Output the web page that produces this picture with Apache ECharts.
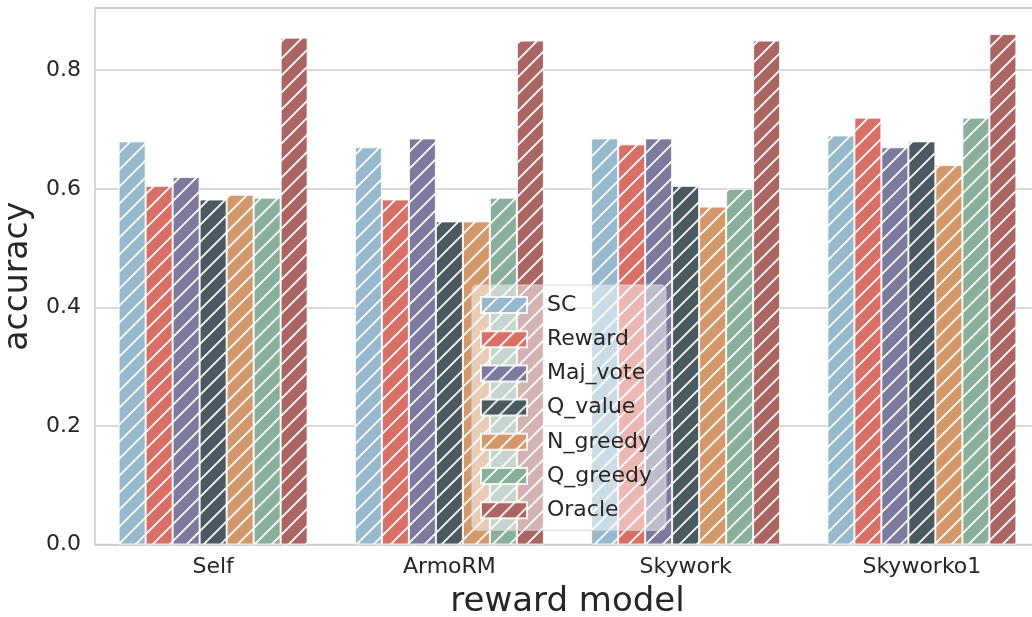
<!DOCTYPE html>
<html>
<head>
<meta charset="utf-8">
<script src="https://cdn.jsdelivr.net/npm/echarts@6/dist/echarts.min.js"></script>
<style>html,body{margin:0;padding:0;background:#fff;}#chart{width:1032px;height:617px;}</style>
</head>
<body>
<div id="chart"></div>
<script>
const categories = ['Self', 'ArmoRM', 'Skywork', 'Skyworko1'];
const seriesNames = ['SC', 'Reward', 'Maj_vote', 'Q_value', 'N_greedy', 'Q_greedy', 'Oracle'];
const SC       = [0.680, 0.670, 0.685, 0.690];
const Reward   = [0.605, 0.582, 0.675, 0.720];
const Maj_vote = [0.620, 0.685, 0.685, 0.670];
const Q_value  = [0.582, 0.545, 0.605, 0.680];
const N_greedy = [0.590, 0.545, 0.570, 0.640];
const Q_greedy = [0.585, 0.585, 0.600, 0.720];
const Oracle   = [0.855, 0.850, 0.850, 0.861];
const yTicks = [0, 0.2, 0.4, 0.6, 0.8];

const seriesData = [SC, Reward, Maj_vote, Q_value, N_greedy, Q_greedy, Oracle];
const colors = ['#97b9ce', '#d87068', '#7d7b9d', '#4b5a61', '#d3996a', '#8aaf9b', '#ab6664'];

function hatch(color) {
  const P = 17;
  const c = document.createElement('canvas');
  c.width = P; c.height = P;
  const ctx = c.getContext('2d');
  ctx.fillStyle = color;
  ctx.fillRect(0, 0, P, P);
  ctx.strokeStyle = '#ffffff';
  ctx.lineWidth = 1.7;
  ctx.beginPath();
  ctx.moveTo(-2, P + 2); ctx.lineTo(P + 2, -2);
  ctx.moveTo(-2, 2); ctx.lineTo(2, -2);
  ctx.moveTo(P - 2, P + 2); ctx.lineTo(P + 2, P - 2);
  ctx.stroke();
  return c;
}

const FONT = 'DejaVu Sans';
const TXT = '#262626';

const chart = echarts.init(document.getElementById('chart'), null, {renderer: 'canvas'});
chart.setOption({
  animation: false,
  backgroundColor: '#ffffff',
  textStyle: {fontFamily: FONT},
  grid: {
    left: 95, top: 8, right: -8, bottom: 72.5,
    outerBoundsMode: 'none',
    containLabel: false,
    show: true, borderColor: '#cccccc', borderWidth: 1.5, backgroundColor: 'transparent'
  },
  legend: {
    orient: 'vertical',
    left: 472, top: 285,
    padding: [9, 14, 9, 8],
    icon: 'rect',
    itemWidth: 46, itemHeight: 16, itemGap: 12.2,
    backgroundColor: 'rgba(255,255,255,0.5)',
    borderColor: '#d6d6d6', borderWidth: 1, borderRadius: 5,
    z: 20,
    textStyle: {fontFamily: FONT, fontSize: 22, color: TXT, padding: [0, 0, 0, 15]},
    data: seriesNames
  },
  xAxis: {
    type: 'category',
    data: categories,
    axisLine: {show: false},
    axisTick: {show: false},
    axisLabel: {fontFamily: FONT, fontSize: 22, color: TXT, margin: 12},
    name: 'reward model',
    nameLocation: 'middle',
    nameGap: 41,
    nameTextStyle: {fontFamily: FONT, fontSize: 34, color: TXT}
  },
  yAxis: {
    type: 'value',
    min: 0, max: 0.905, interval: 0.2,
    axisLine: {show: false},
    axisTick: {show: false},
    axisLabel: {
      fontFamily: FONT, fontSize: 22, color: TXT, margin: 14,
      showMaxLabel: false,
      formatter: v => yTicks.some(t => Math.abs(t - v) < 1e-6) ? v.toFixed(1) : ''
    },
    splitLine: {lineStyle: {color: '#cccccc', width: 1.5}},
    name: 'accuracy',
    nameLocation: 'middle',
    nameGap: 45,
    nameTextStyle: {fontFamily: FONT, fontSize: 33, color: TXT}
  },
  series: seriesNames.map((n, i) => ({
    name: n,
    type: 'bar',
    data: seriesData[i],
    barGap: '0%',
    barCategoryGap: '20%',
    itemStyle: {
      color: {image: hatch(colors[i]), repeat: 'repeat'},
      borderColor: 'rgba(255,255,255,0.85)',
      borderWidth: 1
    },
    emphasis: {disabled: true}
  }))
});
</script>
</body>
</html>
